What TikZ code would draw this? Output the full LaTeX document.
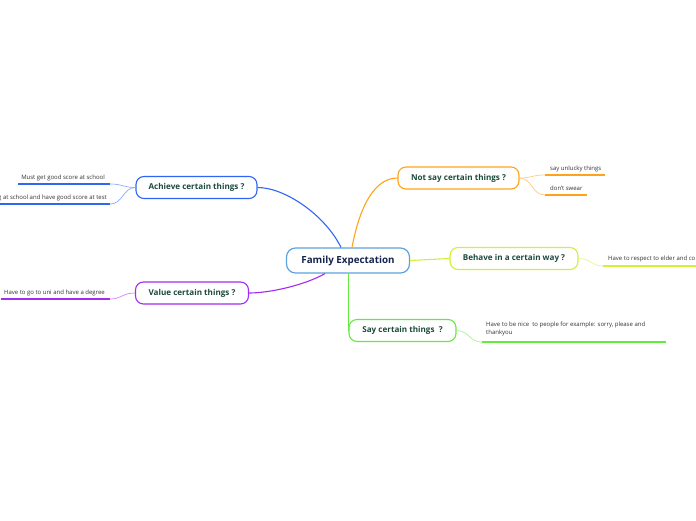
\documentclass[tikz,border=0pt]{standalone}
\usepackage{fontspec}
\setmainfont{Open Sans}
\usepackage{tikz}

\definecolor{rootblue}{HTML}{5DA3DC}
\definecolor{roottext}{HTML}{15244D}
\definecolor{topictext}{HTML}{1C4A3C}
\definecolor{leaftext}{HTML}{333333}
\definecolor{achblue}{HTML}{2F66F8}
\definecolor{valpurple}{HTML}{A42CF0}
\definecolor{notorange}{HTML}{FFA31A}
\definecolor{behyellow}{HTML}{D2F036}
\definecolor{saygreen}{HTML}{62EC3C}

\tikzset{
  root/.style={draw=rootblue, line width=1.2pt, rounded corners=9pt, fill=white,
    text=roottext, font=\bfseries\fontsize{9.8}{11}\selectfont,
    minimum width=123pt, minimum height=25pt, inner sep=0pt},
  topic/.style={draw=#1, line width=1.1pt, rounded corners=8pt, fill=white,
    text=topictext, font=\bfseries\fontsize{8.1}{9}\selectfont,
    minimum height=22pt, inner sep=0pt},
  leaf/.style={text=leaftext, font=\fontsize{6}{7.4}\selectfont, inner sep=0pt},
  branch/.style={draw=#1, line width=1.1pt},
  twig/.style={draw=#1!55, line width=0.7pt},
  under/.style={draw=#1, line width=1.5pt},
}

\begin{document}
\begin{tikzpicture}[x=1pt, y=-1pt]
  \useasboundingbox[fill=white] (0,0) rectangle (696,520);
  % ---------- branches ----------
  \node[root] (root) at (348,260.5) {Family Expectation};
  \node[topic=achblue, minimum width=121pt] (achieve) at (196.5,187.5)
    {Achieve certain things ?};
  \node[topic=valpurple, minimum width=113pt] (value) at (192,293)
    {Value certain things ?};
  \node[topic=notorange, minimum width=121pt] (notsay) at (458.5,178)
    {Not say certain things ?};
  \node[topic=behyellow, minimum width=128pt] (behave) at (514,258.5)
    {Behave in a certain way ?};
  \node[topic=saygreen, minimum width=107pt] (say) at (402.5,330.5)
    {Say certain things\ \ ?};
  \draw[branch=achblue] ([xshift=-7pt]root.north)
    .. controls (325,215) and (285,187.5) .. (achieve.east);
  \draw[branch=notorange] ([xshift=4pt]root.north)
    .. controls (360,205) and (375,178) .. (notsay.west);
  \draw[branch=behyellow] (root.east) -- (behave.west);
  \draw[branch=valpurple] ([xshift=-23pt]root.south)
    .. controls (305,285) and (270,293) .. (value.east);
  \draw[branch=saygreen] (root.south -| say.west) -- (say.west);
  % ---------- Achieve ----------
  \coordinate (ach1) at (110,184);
  \coordinate (ach2) at (110,204);
  \draw[under=achblue] (18,184) -- (ach1);
  \draw[under=achblue] (0,204) -- (ach2);
  \node[leaf, anchor=base east] (achtext1) at (105,179.5)
    {Must get good score at school};
  \node[leaf, anchor=base east] (achtext2) at (107,199.5)
    {g at school and have good score at test};
  \draw[twig=achblue] (achieve.west) .. controls (123,187.5) and (123,184) .. (ach1);
  \draw[twig=achblue] (achieve.west) .. controls (123,187.5) and (123,204) .. (ach2);
  % ---------- Value ----------
  \coordinate (val1) at (110,299);
  \draw[under=valpurple] (1,299) -- (val1);
  \node[leaf, anchor=base east] (valtext1) at (105,294.5)
    {Have to go to uni and have a degree};
  \draw[twig=valpurple] (value.west) .. controls (122,293) and (122,299) .. (val1);
  % ---------- Not say ----------
  \coordinate (not1) at (545,175);
  \coordinate (not2) at (545,195);
  \draw[under=notorange] (not1) -- (605,175);
  \draw[under=notorange] (not2) -- (587,195);
  \node[leaf, anchor=base west] (nottext1) at (550,170.5) {say unlucky things};
  \node[leaf, anchor=base west] (nottext2) at (550,190.5) {don't swear};
  \draw[twig=notorange] (notsay.east) .. controls (532,178) and (532,175) .. (not1);
  \draw[twig=notorange] (notsay.east) .. controls (532,178) and (532,195) .. (not2);
  % ---------- Behave ----------
  \coordinate (beh1) at (603,266);
  \draw[under=behyellow] (beh1) -- (696,266);
  \node[leaf, anchor=base west] (behtext1) at (608,260.5)
    {Have to respect to elder and co};
  \draw[twig=behyellow] (behave.east) .. controls (591,258.5) and (591,266) .. (beh1);
  % ---------- Say ----------
  \coordinate (say1) at (482,342);
  \draw[under=saygreen] (say1) -- (666,342);
  \node[leaf, anchor=north west, align=left] (saytext1) at (486,322)
    {Have to be nice\ \ to people for example: sorry, please and\\thankyou};
  \draw[twig=saygreen] (say.east) .. controls (469,330.5) and (469,342) .. (say1);
\end{tikzpicture}
\end{document}
